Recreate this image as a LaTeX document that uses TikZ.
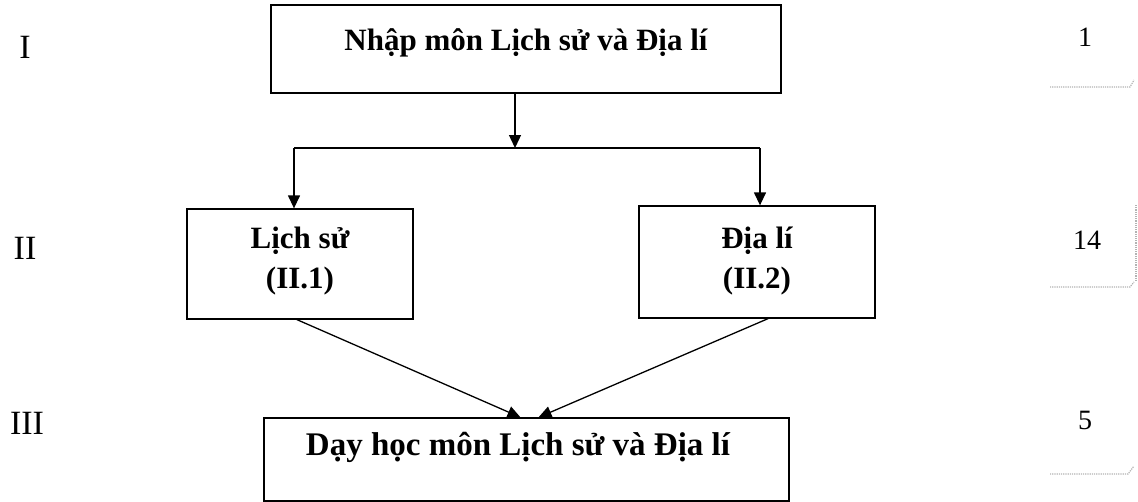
\documentclass[tikz,border=0pt]{standalone}
\usepackage{fontspec}
\setmainfont{Liberation Serif}
\usetikzlibrary{arrows.meta,calc}
\begin{document}
\begin{tikzpicture}[x=1pt,y=-1pt,
  box/.style={draw, line width=1.3pt, rectangle, inner sep=0pt},
  lbl/.style={font=\fontsize{31}{40}\selectfont\bfseries, align=center, inner sep=0pt},
  biglbl/.style={font=\fontsize{33}{40}\selectfont\bfseries, inner sep=0pt},
  side/.style={font=\fontsize{34}{36}\selectfont, inner sep=0pt},
  num/.style={font=\fontsize{28}{30}\selectfont, inner sep=0pt},
  conn/.style={line width=1.3pt},
  arr/.style={conn, -{Triangle[length=13pt,width=12pt]}},
  scan/.style={gray!60, densely dotted, line width=1.2pt}]
\useasboundingbox (0,0) rectangle (1138,501);
% boxes
\node[box, minimum width=510pt, minimum height=88pt] (top) at (526,49) {};
\node[box, minimum width=226pt, minimum height=110pt] (L) at (300,264) {};
\node[box, minimum width=236pt, minimum height=112pt] (R) at (757,262) {};
\node[box, minimum width=525pt, minimum height=83pt] (B) at (526.5,459.5) {};
% texts
\node[lbl, anchor=base] (toptext) at (526,50) {Nhập môn Lịch sử và Địa lí};
\node[lbl] (ltext) at (300,261) {Lịch sử\\(II.1)};
\node[lbl] (rtext) at (757,261) {Địa lí\\(II.2)};
\node[biglbl, anchor=base] (btext) at (518,455) {Dạy học môn Lịch sử và Địa lí};
% side labels
\node[side] (s1) at (25,47) {I};
\node[side] (s2) at (25,248) {II};
\node[side] (s3) at (27,423) {III};
\node[num] (n1) at (1085,37) {1};
\node[num] (n2) at (1087,240) {14};
\node[num] (n3) at (1085,420) {5};
% connectors
\coordinate (j) at (515,148);
\coordinate (jl) at (294,148);
\coordinate (jr) at (760,148);
\draw[arr] (top.south -| j) -- (j);
\draw[conn] (jl) -- (jr);
\draw[arr] (jl) -- (jl |- L.north);
\draw[arr] (jr) -- (jr |- R.north);
\draw[arr] ([xshift=-3pt]L.south) -- ([xshift=-6pt]B.north);
\draw[arr] ([xshift=11pt]R.south) -- ([xshift=12pt]B.north);
% faint scan marks
\draw[scan] (1050,87) -- (1130,87) -- (1134,80);
\draw[scan] (1050,287) -- (1130,287) -- (1134,282);
\draw[scan] (1136,205) -- (1136,282);
\draw[scan] (1050,474) -- (1128,474) -- (1134,466);
\end{tikzpicture}
\end{document}
